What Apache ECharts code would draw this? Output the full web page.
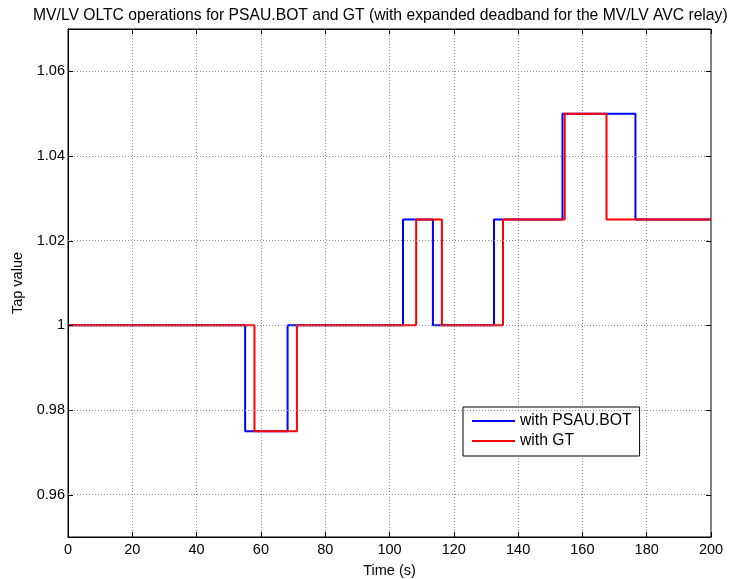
<!DOCTYPE html>
<html>
<head>
<meta charset="utf-8">
<script src="https://cdn.jsdelivr.net/npm/echarts@6/dist/echarts.min.js"></script>
<style>html,body{margin:0;padding:0;background:#fff}#c{width:734px;height:579px}</style>
</head>
<body>
<div id="c"></div>
<script>
// Switching times (s) and tap levels after each switch
const blueTimes = [0, 55.1, 68.3, 104.2, 113.5, 132.5, 153.8, 176.5, 200];
const blueLevels = [1, 0.975, 1, 1.025, 1, 1.025, 1.05, 1.025, 1.025];
const redTimes = [0, 58.0, 71.2, 108.3, 116.3, 135.3, 154.5, 167.5, 200];
const redLevels = [1, 0.975, 1, 1.025, 1, 1.025, 1.05, 1.025, 1.025];
const xTicks = [0, 20, 40, 60, 80, 100, 120, 140, 160, 180, 200];
const yTicks = [0.96, 0.98, 1, 1.02, 1.04, 1.06];

function stepPoints(times, levels) {
  const pts = [[times[0], levels[0]]];
  for (let i = 1; i < times.length; i++) {
    pts.push([times[i], levels[i - 1]]);
    pts.push([times[i], levels[i]]);
  }
  return pts;
}

const FONT = 'Liberation Sans';
const TICKF = 14.5;
const chart = echarts.init(document.getElementById('c'), null, {renderer: 'canvas'});
const gridLine = {show: true, lineStyle: {color: '#8a8a8a', type: [1, 2], width: 1}};
const tickStyle = {color: '#000', width: 1};
chart.setOption({
  animation: false,
  backgroundColor: '#fff',
  title: {
    text: 'MV/LV OLTC operations for PSAU.BOT and GT (with expanded deadband for the MV/LV AVC relay)',
    left: 28, top: 3,
    textStyle: {fontFamily: FONT, fontSize: 15.7, fontWeight: 'normal', color: '#000'}
  },
  grid: {left: 68, right: 23, top: 29, bottom: 42, show: true, borderColor: '#000', borderWidth: 1,
         containLabel: false, outerBoundsMode: 'none'},
  legend: {
    orient: 'vertical', left: 463, top: 407,
    data: ['with PSAU.BOT', 'with GT'],
    icon: 'rect', itemWidth: 43, itemHeight: 2, itemGap: 4,
    padding: [6, 8, 7, 9],
    backgroundColor: '#fff', borderColor: '#000', borderWidth: 1, borderRadius: 0,
    textStyle: {fontFamily: FONT, fontSize: 15.7, color: '#000'}
  },
  xAxis: [{
    type: 'value', min: 0, max: 200, interval: 20,
    name: 'Time (s)', nameLocation: 'middle', nameGap: 26,
    nameTextStyle: {fontFamily: FONT, fontSize: TICKF, color: '#000'},
    axisLine: {show: true, lineStyle: {color: '#000'}},
    axisTick: {show: true, inside: true, length: 5, lineStyle: tickStyle},
    axisLabel: {fontFamily: FONT, fontSize: TICKF, color: '#000', margin: 5},
    splitLine: gridLine
  }, {
    type: 'value', min: 0, max: 200, interval: 20, position: 'top',
    axisLine: {show: true, lineStyle: {color: '#000'}},
    axisTick: {show: true, inside: true, length: 5, lineStyle: tickStyle},
    axisLabel: {show: false}, splitLine: {show: false}
  }],
  yAxis: [{
    type: 'value', min: 0.95, max: 1.07,
    name: 'Tap value', nameLocation: 'middle', nameGap: 41,
    nameTextStyle: {fontFamily: FONT, fontSize: TICKF, color: '#000'},
    axisLine: {show: true, lineStyle: {color: '#000'}},
    axisTick: {show: false},
    axisLabel: {fontFamily: FONT, fontSize: TICKF, color: '#000', margin: 3, customValues: yTicks,
      formatter: v => String(Math.round(v * 100) / 100)},
    splitLine: {show: false}
  }, {
    type: 'value', min: 0.95, max: 1.07, position: 'right',
    axisLine: {show: true, lineStyle: {color: '#000'}},
    axisTick: {show: false}, axisLabel: {show: false}, splitLine: {show: false}
  }],
  series: [
    {name: 'with PSAU.BOT', type: 'line', data: stepPoints(blueTimes, blueLevels), showSymbol: false, symbol: 'none',
     lineStyle: {color: '#0000ff', width: 2}, itemStyle: {color: '#0000ff'}, z: 3},
    {name: 'with GT', type: 'line', data: stepPoints(redTimes, redLevels), showSymbol: false, symbol: 'none',
     lineStyle: {color: '#ff0000', width: 2}, itemStyle: {color: '#ff0000'}, z: 4},
    // y grid lines at the labelled values
    {type: 'line', silent: true, data: [], markLine: {
      silent: true, symbol: 'none', label: {show: false},
      lineStyle: {color: '#8a8a8a', type: [1, 2], width: 1},
      data: yTicks.map(v => ({yAxis: v}))
    }},
    // inward y ticks on left and right frame edges
    {type: 'custom', silent: true, z: 5, data: yTicks.map(v => [v]),
     renderItem: (params, api) => {
       const v = api.value(0);
       const l = api.coord([0, v]);
       const r = api.coord([200, v]);
       const y = Math.round(l[1]) + 0.5;
       return {type: 'group', children: [
         {type: 'line', shape: {x1: l[0], y1: y, x2: l[0] + 5, y2: y}, style: {stroke: '#000', lineWidth: 1}},
         {type: 'line', shape: {x1: r[0] - 5, y1: y, x2: r[0], y2: y}, style: {stroke: '#000', lineWidth: 1}}
       ]};
     },
     encode: {y: 0}}
  ]
});
</script>
</body>
</html>
